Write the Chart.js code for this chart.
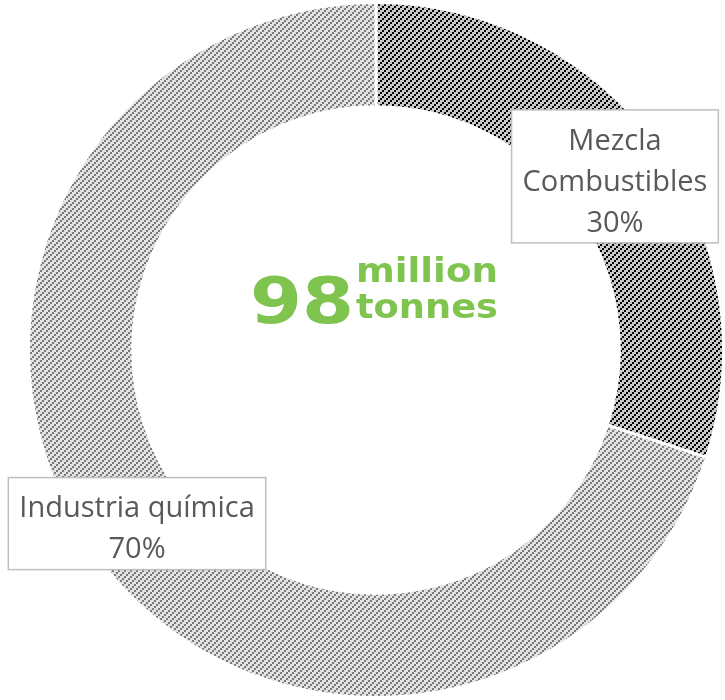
<!DOCTYPE html>
<html>
<head>
<meta charset="utf-8">
<script src="https://cdn.jsdelivr.net/npm/chart.js@4/dist/chart.umd.min.js"></script>
<style>
  html, body { margin: 0; padding: 0; background: #fff; }
  #wrap { width: 725px; height: 700px; }
</style>
</head>
<body>
<div id="wrap"><canvas id="donut"></canvas></div>
<script>
// datos
const categories = ['Mezcla Combustibles', 'Industria química'];
const labelLines = [['Mezcla', 'Combustibles'], ['Industria química']];
const shares = [30, 70];
const centerValue = '98';
const centerUnit = ['million', 'tonnes'];

// rayado diagonal
function hatch(bg, fg) {
    const c = document.createElement('canvas');
    c.width = 6; c.height = 6;
    const g = c.getContext('2d');
    g.fillStyle = bg;
    g.fillRect(0, 0, 6, 6);
    g.fillStyle = fg;
    g.fillRect(0, 4, 2, 2);
    g.fillRect(2, 2, 2, 2);
    g.fillRect(4, 0, 2, 2);
    return g.createPattern(c, 'repeat');
}

const ctx = document.getElementById('donut').getContext('2d');
const fills = [hatch('#c9c9c9', '#000000'), hatch('#e2e2e2', '#7a7a7a')];

const green = '#80c450';

const labelsPlugin = {
    id: 'boxLabels',
    afterDraw(chart) {
        const c = chart.ctx;
        const arcs = chart.getDatasetMeta(0).data;

        // texto central
        const cx = arcs[0].x, cy = arcs[0].y;
        c.save();
        c.fillStyle = green;
        c.textBaseline = 'alphabetic';
        c.textAlign = 'left';
        c.font = 'bold 64px "DejaVu Sans"';
        let w = c.measureText(centerValue).width;
        c.save();
        c.translate(cx - 126, cy - 27);
        c.scale(104 / w, 1);
        c.fillText(centerValue, 0, 0);
        c.restore();
        c.font = 'bold 34px "DejaVu Sans"';
        centerUnit.forEach((t, i) => {
            const tw = c.measureText(t).width;
            c.save();
            c.translate(cx - 20, cy - 68 + i * 36);
            c.scale(142 / tw, 1);
            c.fillText(t, 0, 0);
            c.restore();
        });
        c.restore();

        // etiquetas
        c.save();
        c.font = '29px "Open Sans"';
        c.textAlign = 'center';
        c.textBaseline = 'middle';
        arcs.forEach((arc, i) => {
            const pos = arc.tooltipPosition();
            const lines = labelLines[i].concat([shares[i] + '%']);
            const lh = 41;
            let maxW = 0;
            lines.forEach(l => { maxW = Math.max(maxW, c.measureText(l).width); });
            const bw = maxW + 22;
            const bh = lines.length * lh + 10;
            const bx = pos.x - bw / 2, by = pos.y - bh / 2;
            c.fillStyle = '#ffffff';
            c.fillRect(bx, by, bw, bh);
            c.strokeStyle = '#bfbfbf';
            c.lineWidth = 1.5;
            c.strokeRect(bx, by, bw, bh);
            c.fillStyle = '#595959';
            lines.forEach((l, j) => {
                c.fillText(l, pos.x, by + 5 + lh / 2 + j * lh + 6);
            });
        });
        c.restore();
    }
};

new Chart(ctx, {
    type: 'doughnut',
    data: {
        labels: categories,
        datasets: [{
            data: shares,
            backgroundColor: fills,
            borderColor: '#ffffff',
            borderWidth: 3
        }]
    },
    options: {
        responsive: true,
        maintainAspectRatio: false,
        animation: false,
        events: [],
        cutout: '70%',
        layout: { padding: { left: 27, right: -9, top: -4, bottom: -3 } },
        plugins: {
            legend: { display: false },
            tooltip: { enabled: false }
        }
    },
    plugins: [labelsPlugin]
});
</script>
</body>
</html>
